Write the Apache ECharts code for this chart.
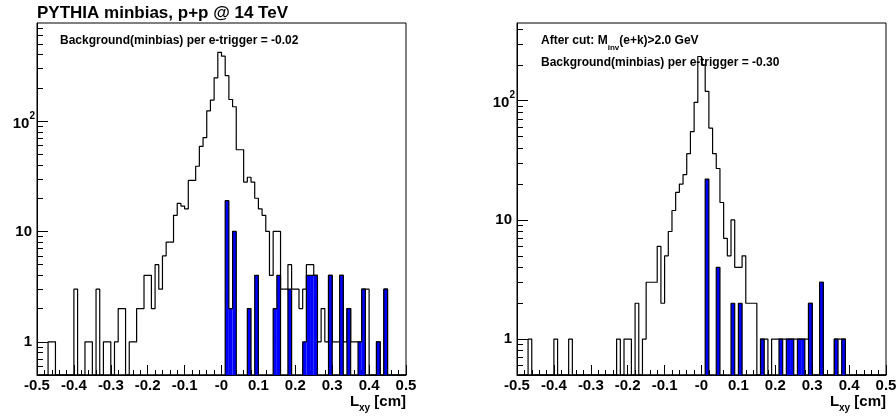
<!DOCTYPE html>
<html>
<head>
<meta charset="utf-8">
<script src="https://cdn.jsdelivr.net/npm/echarts@6/dist/echarts.min.js"></script>
<style>
html,body{margin:0;padding:0;background:#ffffff;}
#chart{width:896px;height:417px;}
</style>
</head>
<body>
<div id="chart"></div>
<script>
// ---------------- data ----------------
const binLow = -0.5;
const binWidth = 0.01;

const xTickValues = [-0.5, -0.4, -0.3, -0.2, -0.1, 0, 0.1, 0.2, 0.3, 0.4, 0.5];
const xTickLabels = ['-0.5', '-0.4', '-0.3', '-0.2', '-0.1', '-0', '0.1', '0.2', '0.3', '0.4', '0.5'];
const yTickValues = [1, 10, 100];
const yTickLabels = ['1', '10', '10^2'];
const yMinorValues = [0.6, 0.7, 0.8, 0.9, 2, 3, 4, 5, 6, 7, 8, 9, 20, 30, 40, 50, 60, 70, 80, 90, 200, 300, 400, 500, 600, 700];

const leftRange = [0.5, 775];
const rightRange = [0.5, 449];

// left panel: all minbias counts per 0.01 cm bin (-0.5 .. 0.5)
const leftAll = [
  0, 0, 0, 1, 1, 0, 0, 0, 0, 0,
  3, 0, 0, 1, 1, 0, 3, 0, 1, 1,
  0, 1, 2, 2, 0, 1, 1, 2, 2, 4,
  4, 2, 5, 3, 6, 8, 8, 14, 18, 17,
  16, 29, 29, 39, 59, 71, 124, 155, 247, 420,
  388, 258, 157, 135, 55, 55, 28, 31, 28, 20,
  16, 14, 10, 4, 10, 10, 3, 3, 5, 3,
  3, 2, 3, 5, 5, 4, 1, 2, 1, 4,
  1, 1, 4, 1, 2, 1, 1, 1, 3, 3,
  0, 0, 1, 0, 3, 0, 0, 0, 0, 0
];
// left panel: blue filled histogram
const leftBlue = [
  0, 0, 0, 0, 0, 0, 0, 0, 0, 0,
  0, 0, 0, 0, 0, 0, 0, 0, 0, 0,
  0, 0, 0, 0, 0, 0, 0, 0, 0, 0,
  0, 0, 0, 0, 0, 0, 0, 0, 0, 0,
  0, 0, 0, 0, 0, 0, 0, 0, 0, 0,
  0, 19, 2, 10, 0, 0, 0, 2, 0, 4,
  0, 0, 0, 0, 2, 4, 0, 0, 3, 0,
  0, 0, 1, 4, 4, 4, 0, 0, 0, 4,
  0, 0, 4, 0, 2, 0, 0, 1, 3, 0,
  0, 0, 1, 0, 3, 0, 0, 0, 0, 0
];
// right panel: after cut, all counts
const rightAll = [
  0, 0, 0, 1, 0, 0, 0, 0, 0, 0,
  1, 0, 0, 0, 1, 0, 0, 0, 0, 0,
  0, 0, 0, 0, 0, 0, 0, 1, 0, 1,
  1, 0, 2, 0, 1, 3, 3, 3, 6, 2,
  5, 8, 12, 17, 20, 24, 36, 55, 97, 235,
  200, 120, 59, 36, 27, 14, 7, 5, 10, 4,
  4, 5, 2, 2, 2, 0, 1, 1, 0, 1,
  1, 1, 1, 1, 1, 1, 1, 1, 1, 2,
  0, 0, 3, 0, 0, 0, 1, 1, 1, 0,
  0, 0, 0, 0, 0, 0, 0, 0, 0, 0
];
// right panel: blue filled histogram
const rightBlue = [
  0, 0, 0, 0, 0, 0, 0, 0, 0, 0,
  0, 0, 0, 0, 0, 0, 0, 0, 0, 0,
  0, 0, 0, 0, 0, 0, 0, 0, 0, 0,
  0, 0, 0, 0, 0, 0, 0, 0, 0, 0,
  0, 0, 0, 0, 0, 0, 0, 0, 0, 0,
  0, 22, 0, 0, 4, 0, 0, 0, 2, 0,
  2, 0, 0, 0, 0, 0, 1, 0, 0, 0,
  0, 1, 0, 1, 1, 0, 1, 1, 0, 2,
  0, 0, 3, 0, 0, 0, 1, 0, 1, 0,
  0, 0, 0, 0, 0, 0, 0, 0, 0, 0
];

// ---------------- helpers ----------------
const FONT = '"Liberation Sans", Arial, Helvetica, sans-serif';

function stepPoints(counts, floor) {
  const pts = [];
  for (let i = 0; i < counts.length; i++) {
    pts.push([binLow + i * binWidth, counts[i] > 0 ? counts[i] : floor]);
  }
  pts.push([binLow + counts.length * binWidth, floor]);
  return pts;
}
function barItems(counts) {
  const out = [];
  counts.forEach((c, i) => {
    if (c > 0) out.push([binLow + i * binWidth, c, binLow + (i + 1) * binWidth]);
  });
  return out;
}
function rectRenderer(floor) {
  return function (params, api) {
    const p0 = api.coord([api.value(0), api.value(1)]);
    const p1 = api.coord([api.value(2), floor]);
    return {
      type: 'rect',
      shape: { x: p0[0], y: p0[1], width: p1[0] - p0[0], height: p1[1] - p0[1] },
      style: { fill: '#0000ff' }
    };
  };
}
function xLabel(v) {
  const k = xTickValues.findIndex(t => Math.abs(t - v) < 1e-6);
  return k >= 0 ? xTickLabels[k] : '';
}
function yLabel(v) {
  const k = yTickValues.findIndex(t => Math.abs(t - v) / t < 1e-6);
  if (k < 0) return '';
  const s = yTickLabels[k];
  if (s.indexOf('^') >= 0) {
    const parts = s.split('^');
    return '{m|' + parts[0] + '}{s|' + parts[1] + '}';
  }
  return '{n|' + s + '}';
}
const yRich = {
  n: { fontSize: 15, fontWeight: 'bold', fontFamily: FONT, color: '#000', padding: [0, 3, 0, 0] },
  m: { fontSize: 15, fontWeight: 'bold', fontFamily: FONT, color: '#000', lineHeight: 20, verticalAlign: 'bottom' },
  s: { fontSize: 10, fontWeight: 'bold', fontFamily: FONT, color: '#000', lineHeight: 20, verticalAlign: 'top' }
};

function makeX(gi) {
  return {
    type: 'value', gridIndex: gi, min: -0.5, max: 0.5, interval: 0.1, position: 'bottom',
    axisLine: { show: true, onZero: false, lineStyle: { color: '#000', width: 1 } },
    axisTick: { show: true, inside: true, length: 10, lineStyle: { color: '#000', width: 1 } },
    minorTick: { show: true, splitNumber: 5, length: 5, lineStyle: { color: '#000', width: 1 } },
    splitLine: { show: false }, minorSplitLine: { show: false },
    axisLabel: {
      show: true, margin: 3, color: '#000', fontFamily: FONT, fontWeight: 'bold', fontSize: 15,
      showMinLabel: true, showMaxLabel: true, hideOverlap: false, formatter: xLabel
    }
  };
}
function makeYMajor(gi, range) {
  return {
    type: 'log', logBase: 10, gridIndex: gi, position: 'left', offset: 0, min: range[0], max: range[1],
    axisLine: { show: true, onZero: false, lineStyle: { color: '#000', width: 1 } },
    axisTick: { show: true, inside: true, length: 11, customValues: yTickValues, lineStyle: { color: '#000', width: 1 } },
    minorTick: { show: false }, splitLine: { show: false },
    axisLabel: {
      show: true, margin: 2, customValues: yTickValues, formatter: yLabel, rich: yRich,
      color: '#000', fontFamily: FONT, fontWeight: 'bold', fontSize: 15
    }
  };
}
function makeYMinor(gi, range) {
  return {
    type: 'log', logBase: 10, gridIndex: gi, position: 'left', offset: 0, min: range[0], max: range[1],
    axisLine: { show: false, onZero: false },
    axisTick: { show: true, inside: true, length: 6, customValues: yMinorValues.filter(v => v > range[0] && v < range[1]), lineStyle: { color: '#000', width: 1 } },
    minorTick: { show: false }, splitLine: { show: false },
    axisLabel: { show: false }
  };
}
function lineSeries(xi, yi, data, z) {
  return {
    type: 'line', xAxisIndex: xi, yAxisIndex: yi, data: data, step: 'end',
    symbol: 'none', showSymbol: false, silent: true, clip: true, z: z,
    lineStyle: { color: '#000', width: 1.2 }
  };
}
function barSeries(xi, yi, counts, floor) {
  return {
    type: 'custom', xAxisIndex: xi, yAxisIndex: yi, data: barItems(counts),
    renderItem: rectRenderer(floor), clip: true, silent: true, z: 3,
    encode: { x: [0, 2], y: 1 }
  };
}

const txt = (x, y, style) => ({ type: 'text', x: x, y: y, silent: true, style: style });
const subRich = (mainSize, subSize, h) => ({
  a: { fontSize: mainSize, fontWeight: 'bold', fontFamily: FONT, fill: '#000', lineHeight: h, verticalAlign: 'middle' },
  s: { fontSize: subSize, fontWeight: 'bold', fontFamily: FONT, fill: '#000', lineHeight: h, verticalAlign: 'bottom' }
});

const option = {
  animation: false,
  backgroundColor: '#ffffff',
  grid: [
    { left: 37, top: 23, width: 369, height: 352, show: true, backgroundColor: '#fff', borderColor: '#000', borderWidth: 1, containLabel: false, outerBoundsMode: 'none' },
    { left: 517, top: 23, width: 369, height: 352, show: true, backgroundColor: '#fff', borderColor: '#000', borderWidth: 1, containLabel: false, outerBoundsMode: 'none' }
  ],
  xAxis: [makeX(0), makeX(1)],
  yAxis: [makeYMajor(0, leftRange), makeYMinor(0, leftRange), makeYMajor(1, rightRange), makeYMinor(1, rightRange)],
  series: [
    lineSeries(0, 0, stepPoints(leftAll, leftRange[0]), 2),
    barSeries(0, 0, leftBlue, leftRange[0]),
    lineSeries(0, 0, stepPoints(leftBlue, leftRange[0]), 4),
    lineSeries(1, 2, stepPoints(rightAll, rightRange[0]), 2),
    barSeries(1, 2, rightBlue, rightRange[0]),
    lineSeries(1, 2, stepPoints(rightBlue, rightRange[0]), 4)
  ],
  graphic: {
    elements: [
      txt(37, 13, { text: 'PYTHIA minbias, p+p @ 14 TeV', fontSize: 17, fontWeight: 'bold', fontFamily: FONT, fill: '#000', align: 'left', verticalAlign: 'middle' }),
      txt(60, 41, { text: 'Background(minbias) per e-trigger = -0.02', fontSize: 12, fontWeight: 'bold', fontFamily: FONT, fill: '#000', align: 'left', verticalAlign: 'middle' }),
      txt(541, 41, {
        text: '{a|After cut: M}{s|inv}{a|(e+k)>2.0 GeV}', align: 'left', verticalAlign: 'middle',
        rich: subRich(12, 8, 22)
      }),
      txt(541, 62.5, { text: 'Background(minbias) per e-trigger = -0.30', fontSize: 12, fontWeight: 'bold', fontFamily: FONT, fill: '#000', align: 'left', verticalAlign: 'middle' }),
      txt(406, 401.7, {
        text: '{a|L}{s|xy}{a| [cm]}', align: 'right', verticalAlign: 'middle',
        rich: subRich(15, 10, 23)
      }),
      txt(886, 401.7, {
        text: '{a|L}{s|xy}{a| [cm]}', align: 'right', verticalAlign: 'middle',
        rich: subRich(15, 10, 23)
      })
    ]
  }
};

const chart = echarts.init(document.getElementById('chart'), null, { renderer: 'canvas', width: 896, height: 417 });
chart.setOption(option);
</script>
</body>
</html>
